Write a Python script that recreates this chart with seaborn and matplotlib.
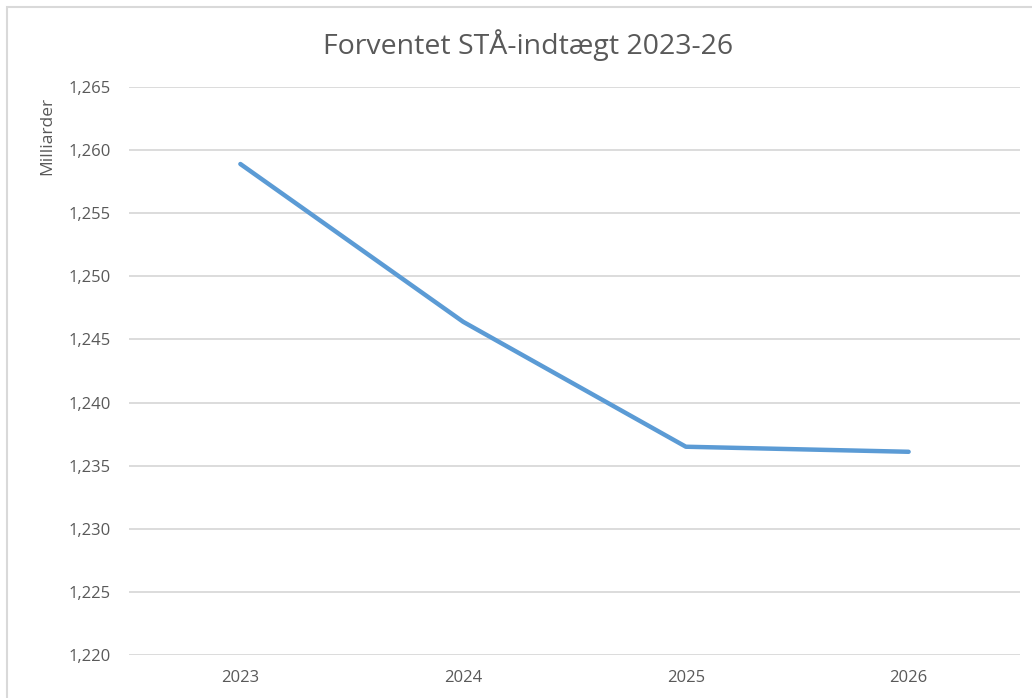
import matplotlib
matplotlib.use("Agg")
import matplotlib.pyplot as plt
import seaborn as sns
import pandas as pd
from matplotlib.ticker import FuncFormatter, MultipleLocator
from matplotlib.patches import Rectangle

# Data
years = ["2023", "2024", "2025", "2026"]
values = [1.2589, 1.2464, 1.2365, 1.2361]
title = "Forventet STÅ-indtægt 2023-26"
ylabel = "Milliarder"

df = pd.DataFrame({"year": years, "value": values})

sns.set_theme(style="white")
plt.rcParams["font.family"] = ["Open Sans", "DejaVu Sans"]

W, H = 1032, 698
fig = plt.figure(figsize=(W / 100, H / 100), dpi=100)
ax = fig.add_axes([129 / W, 1 - 655 / H, (1020 - 129) / W, (655 - 87) / H])

sns.lineplot(data=df, x="year", y="value", ax=ax, color="#5B9BD5", linewidth=3.2,
             sort=False)

ax.set_ylim(1.220, 1.265)
ax.set_xlim(-0.5, 3.5)
ax.yaxis.set_major_locator(MultipleLocator(0.005))
ax.yaxis.set_major_formatter(FuncFormatter(lambda v, p: f"{v:.3f}".replace(".", ",")))
ax.grid(axis="y", color="#D9D9D9", linewidth=1.3)
ax.set_axisbelow(True)
for s in ax.spines.values():
    s.set_visible(False)
ax.tick_params(axis="both", length=0, labelsize=12, labelcolor="#595959")
ax.tick_params(axis="y", pad=13)
ax.tick_params(axis="x", pad=11)
ax.set_xlabel("")
ax.set_ylabel("")

fig.text(528 / W, 1 - 45 / H, title, ha="center", va="center", fontsize=20.5, color="#595959")
fig.text(47 / W, 1 - 136 / H, ylabel, ha="center", va="center", rotation=90,
         fontsize=12.5, color="#595959")

# outer chart border
fig.patches.append(Rectangle((7 / W, -0.1), 1.2, 1 - 7 / H + 0.1, transform=fig.transFigure,
                             fill=False, edgecolor="#D9D9D9", linewidth=1.5))

fig.savefig("out.png", dpi=100, facecolor="white")
